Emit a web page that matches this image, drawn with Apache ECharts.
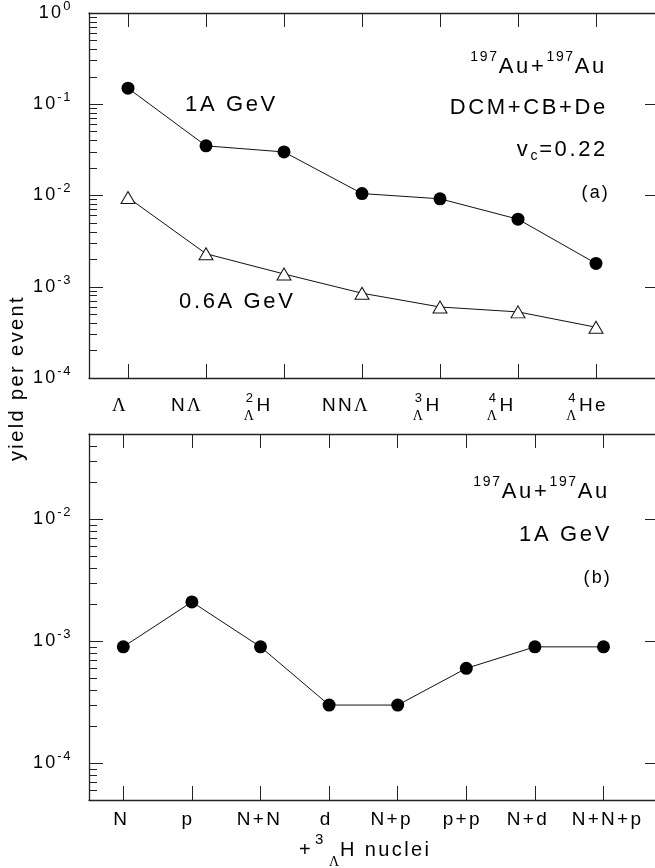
<!DOCTYPE html>
<html>
<head>
<meta charset="utf-8">
<script src="https://cdn.jsdelivr.net/npm/echarts@6/dist/echarts.min.js"></script>
<style>
  html, body { margin: 0; padding: 0; background: #fff; }
  #chart { width: 655px; height: 868px; }
</style>
</head>
<body>
<div id="chart"></div>
<script>
// Hypernucleus yields per event in 197Au+197Au collisions (DCM+CB+De, vc = 0.22)

// ---- panel (a): light hypernuclei ----
const speciesMain  = ['Λ', 'NΛ', 'H', 'NNΛ', 'H', 'H', 'He'];
const speciesMass  = ['', '', '2', '', '3', '4', '4'];
const speciesHyper = ['', '', 'Λ', '', 'Λ', 'Λ', 'Λ'];
const yield1A  = [0.15, 0.035, 0.030, 0.0105, 0.0092, 0.0055, 0.0018];
const yield06A = [0.0095, 0.0023, 0.00138, 0.00085, 0.0006, 0.00053, 0.00036];
const decadesA = [1e-4, 1e-3, 1e-2, 1e-1, 1];

// ---- panel (b): 3ΛH + partner nuclei ----
const partners      = ['N', 'p', 'N+N', 'd', 'N+p', 'p+p', 'N+d', 'N+N+p'];
const yieldPartners = [0.0009, 0.0021, 0.0009, 0.0003, 0.0003, 0.0006, 0.0009, 0.0009];
const decadesB = [1e-4, 1e-3, 1e-2];

// horizontal nudges (px) of the category lettering relative to its tick
const speciesNudge = [-8, -19, -25, -16, -12, -16, -8];
const partnerNudge = [-2, -4, -1, -3, -6, -4, -7, 4];

const FONT  = "'Liberation Sans', Arial, Helvetica, sans-serif";
const SERIF = "'Liberation Serif', 'Times New Roman', serif";
const INK = '#000';
const AX = '#222';

// The figure lettering is slightly tracked: widen canvas text by ~0.12em.
(function () {
  const P = CanvasRenderingContext2D.prototype;
  if (!('letterSpacing' in P)) return;
  const track = function (ctx) {
    const m = /(\d+(?:\.\d+)?)px/.exec(ctx.font);
    ctx.letterSpacing = m ? (parseFloat(m[1]) * 0.12).toFixed(2) + 'px' : '0px';
  };
  const fill = P.fillText, stroke = P.strokeText, measure = P.measureText;
  P.fillText = function () { track(this); return fill.apply(this, arguments); };
  P.strokeText = function () { track(this); return stroke.apply(this, arguments); };
  P.measureText = function () { track(this); return measure.apply(this, arguments); };
})();

const measureCtx = document.createElement('canvas').getContext('2d');
function textWidth(str, size, family) {
  measureCtx.font = size + 'px ' + family;
  return measureCtx.measureText(str).width;
}

function minorTicks(lo, hi) {
  const out = [];
  for (let e = -6; e <= 1; e++) {
    for (let m = 2; m <= 9; m++) {
      const v = +(m * Math.pow(10, e)).toPrecision(3);
      if (v > lo * 1.0001 && v < hi * 0.9999) out.push(v);
    }
  }
  return out;
}

function xAxesFor(grid, count, max) {
  const ticks = [];
  for (let i = 1; i <= count; i++) ticks.push(i);
  const base = {
    gridIndex: grid, type: 'value', min: 0.5, max: max,
    axisLine: { show: true, onZero: false, lineStyle: { color: AX, width: 1.3 } },
    axisTick: { show: true, inside: true, length: 14, customValues: ticks, lineStyle: { color: AX, width: 1 } },
    axisLabel: { show: false },
    splitLine: { show: false }
  };
  return [
    Object.assign({}, base, { position: 'bottom' }),
    Object.assign({}, base, { position: 'top' })
  ];
}

function yAxesFor(grid, lo, hi, decades) {
  const common = {
    gridIndex: grid, type: 'log', logBase: 10, min: lo, max: hi,
    splitLine: { show: false }
  };
  return [
    Object.assign({}, common, {
      position: 'left',
      axisLine: { show: true, onZero: false, lineStyle: { color: AX, width: 1.3 } },
      axisTick: { show: true, inside: true, length: 14, customValues: decades, lineStyle: { color: AX, width: 1 } },
      axisLabel: {
        show: true, margin: 17, customValues: decades,
        formatter: function (v) {
          const e = Math.round(Math.log10(v));
          return '{b|10}{e|' + e + '}';
        },
        rich: {
          b: { fontSize: 18, fontFamily: FONT, color: INK, lineHeight: 28 },
          e: { fontSize: 13, fontFamily: FONT, color: INK, lineHeight: 13, verticalAlign: 'top' }
        }
      }
    }),
    Object.assign({}, common, {
      position: 'left',
      axisLine: { show: false },
      axisTick: { show: true, inside: true, length: 8, customValues: minorTicks(lo, hi), lineStyle: { color: AX, width: 1 } },
      axisLabel: { show: false }
    }),
    Object.assign({}, common, {
      position: 'right',
      axisLine: { show: true, onZero: false, lineStyle: { color: AX, width: 1.3 } },
      axisTick: { show: true, inside: true, length: 11, customValues: decades, lineStyle: { color: AX, width: 1 } },
      axisLabel: { show: false }
    })
  ];
}

const chart = echarts.init(document.getElementById('chart'), null, { renderer: 'canvas' });

const option = {
  animation: false,
  backgroundColor: '#ffffff',
  grid: [
    { left: 89, top: 13, width: 567, height: 365, outerBoundsMode: 'none', containLabel: false },
    { left: 89, top: 434, width: 567, height: 366, outerBoundsMode: 'none', containLabel: false }
  ],
  xAxis: [].concat(
    xAxesFor(0, speciesMain.length, 0.5 + 567 / 78),
    xAxesFor(1, partners.length, 0.5 + 567 / 68.6)
  ),
  yAxis: [].concat(
    yAxesFor(0, 1e-4, 1, decadesA),
    yAxesFor(1, 5e-5, 5e-2, decadesB)
  ),
  series: [
    {
      name: '1A GeV', type: 'line', xAxisIndex: 0, yAxisIndex: 0,
      data: yield1A.map(function (v, i) { return [i + 1, v]; }),
      symbol: 'circle', symbolSize: 13,
      itemStyle: { color: '#000' },
      lineStyle: { color: '#111', width: 1 },
      z: 3
    },
    {
      name: '0.6A GeV', type: 'line', xAxisIndex: 0, yAxisIndex: 0,
      data: yield06A.map(function (v, i) { return [i + 1, v]; }),
      symbol: 'triangle', symbolSize: [14, 12],
      itemStyle: { color: '#fff', borderColor: '#111', borderWidth: 1 },
      lineStyle: { color: '#111', width: 1 },
      z: 3
    },
    {
      name: '3ΛH + X', type: 'line', xAxisIndex: 2, yAxisIndex: 3,
      data: yieldPartners.map(function (v, i) { return [i + 1, v]; }),
      symbol: 'circle', symbolSize: 13,
      itemStyle: { color: '#000' },
      lineStyle: { color: '#111', width: 1 },
      z: 3
    }
  ]
};

chart.setOption(option);

// ---- lettering drawn with graphic elements ----
const graphics = [];

function txt(x, y, text, size, opts) {
  opts = opts || {};
  const el = {
    type: 'text', x: x, y: y, silent: true,
    rotation: opts.rotation || 0,
    style: {
      text: text, fontSize: size, fontFamily: opts.family || FONT, fill: INK,
      align: opts.align || 'left', verticalAlign: 'middle'
    }
  };
  if (opts.rich) el.style.rich = opts.rich;
  graphics.push(el);
}

// species labels under panel (a)
const LBL = 19;
speciesMain.forEach(function (main, i) {
  const cx = chart.convertToPixel({ xAxisIndex: 0 }, i + 1) + speciesNudge[i];
  const cy = 406;
  const parts = main.split(/(Λ)/).filter(Boolean);
  const rich = parts.map(function (p) { return p === 'Λ' ? '{g|Λ}' : '{r|' + p + '}'; }).join('');
  const mainW = parts.reduce(function (w, p) {
    return w + (p === 'Λ' ? textWidth(p, LBL, SERIF) : textWidth(p, LBL, FONT));
  }, 0);
  const preW = speciesMass[i] ? 11 : 0;
  const left = cx - (mainW + preW) / 2 + preW;
  txt(left, cy, rich, LBL, {
    rich: {
      r: { fontSize: LBL, fontFamily: FONT, fill: INK, color: INK },
      g: { fontSize: LBL, fontFamily: SERIF, fill: INK, color: INK }
    }
  });
  if (speciesMass[i]) {
    txt(left - 2, cy - 8, speciesMass[i], 13, { align: 'right' });
    txt(left - 1, cy + 10, speciesHyper[i], 14, { align: 'right', family: SERIF });
  }
});

// partner labels under panel (b)
partners.forEach(function (p, i) {
  const cx = chart.convertToPixel({ xAxisIndex: 2 }, i + 1) + partnerNudge[i];
  txt(cx, 820, p, LBL, { align: 'center' });
});

// x title of panel (b): +3ΛH nuclei
txt(313, 850, '+', 20, { align: 'right' });
txt(315, 840, '3', 15);
txt(329, 862, 'Λ', 14, { family: SERIF });
txt(340, 850, 'H nuclei', 20);

// common y title
txt(17, 378, 'yield per event', 20, { align: 'center', rotation: Math.PI / 2 });

// annotations
const auRich = {
  m: { fontSize: 22, fontFamily: FONT, fill: INK, color: INK, lineHeight: 36 },
  s: { fontSize: 14, fontFamily: FONT, fill: INK, color: INK, lineHeight: 14, verticalAlign: 'top' }
};
const vcRich = {
  m: { fontSize: 22, fontFamily: FONT, fill: INK, color: INK, lineHeight: 28 },
  c: { fontSize: 14, fontFamily: FONT, fill: INK, color: INK, lineHeight: 14, verticalAlign: 'bottom' }
};
txt(607, 67, '{s|197}{m|Au+}{s|197}{m|Au}', 22, { align: 'right', rich: auRich });
txt(608, 108, 'DCM+CB+De', 22, { align: 'right' });
txt(608, 150, '{m|v}{c|c}{m|=0.22}', 22, { align: 'right', rich: vcRich });
txt(610, 193, '(a)', 18, { align: 'right' });
txt(185, 105, '1A GeV', 22);
txt(179, 302, '0.6A GeV', 22);

txt(610, 492, '{s|197}{m|Au+}{s|197}{m|Au}', 22, { align: 'right', rich: auRich });
txt(612, 535, '1A GeV', 22, { align: 'right' });
txt(612, 578, '(b)', 18, { align: 'right' });

chart.setOption({ graphic: graphics });
</script>
</body>
</html>
